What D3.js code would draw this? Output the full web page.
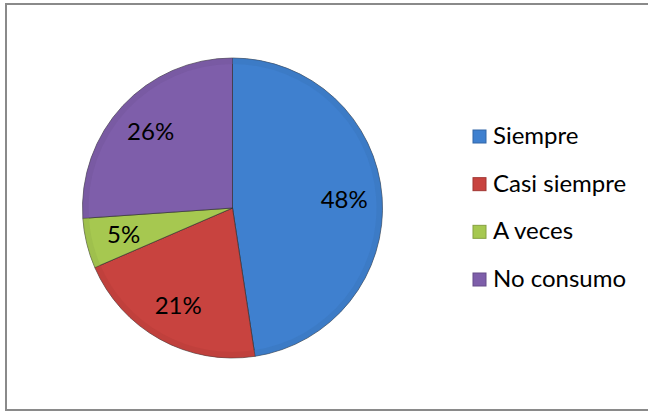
<!DOCTYPE html>
<html><head><meta charset="utf-8">
<script src="https://cdn.jsdelivr.net/npm/d3@7"></script>
<style>html,body{margin:0;padding:0;background:#fff;overflow:hidden}</style>
</head><body><svg id="c" width="648" height="412"></svg>
<script>
const categories = ["Siempre", "Casi siempre", "A veces", "No consumo"];
const values = [47.6, 20.9, 5.4, 26.1];
const labels = ["48%", "21%", "5%", "26%"];
const colors = ["#3F80CF", "#C8433F", "#A6C850", "#7E5EAA"];

const svg = d3.select("#c");
const FONT = "Lato, 'Open Sans', sans-serif";

svg.append("rect").attr("x", 6).attr("y", 4).attr("width", 660).attr("height", 406)
  .attr("fill", "#fff").attr("stroke", "#8a8a8a").attr("stroke-width", 2);

const defs = svg.append("defs");
colors.forEach((c, i) => {
  const g = defs.append("radialGradient").attr("id", "g" + i)
    .attr("cx", "50%").attr("cy", "50%").attr("r", "50%");
  const base = d3.color(c);
  g.append("stop").attr("offset", "0%").attr("stop-color", base.brighter(0.15));
  g.append("stop").attr("offset", "90%").attr("stop-color", base);
  g.append("stop").attr("offset", "100%").attr("stop-color", base.darker(0.35));
});

const cx = 232.5, cy = 208, R = 150;
const pie = d3.pie().sort(null).value(d => d);
const arcs = pie(values);
const arc = d3.arc().innerRadius(0).outerRadius(R);
const labelArc = d3.arc().innerRadius(112).outerRadius(112);

const g = svg.append("g").attr("transform", `translate(${cx},${cy})`);
g.selectAll("path.s").data(arcs).join("path").attr("class", "s")
  .attr("d", arc)
  .attr("fill", (d, i) => colors[i])
  .attr("stroke", "#2a2a2a").attr("stroke-width", 0.6);

// soft highlight band near the rim
const rimArc = d3.arc().innerRadius(R - 6).outerRadius(R);
g.selectAll("path.rim").data(arcs).join("path").attr("class", "rim")
  .attr("d", rimArc)
  .attr("fill", (d, i) => d3.color(colors[i]).darker(0.25))
  .attr("opacity", 0.5);

g.selectAll("text").data(arcs).join("text")
  .attr("transform", d => `translate(${labelArc.centroid(d)})`)
  .attr("text-anchor", "middle").attr("dy", "0.35em")
  .attr("font-family", FONT).attr("font-size", 24).attr("fill", "#000")
  .text((d, i) => labels[i]);

const leg = svg.append("g");
const ys = d3.scalePoint().domain(categories).range([144, 287]);
categories.forEach((c, i) => {
  leg.append("rect").attr("x", 473).attr("y", ys(c) - 14).attr("width", 13).attr("height", 13)
    .attr("fill", colors[i]).attr("stroke", d3.color(colors[i]).darker(0.6)).attr("stroke-width", 1);
  leg.append("text").attr("x", 493).attr("y", ys(c))
    .attr("font-family", FONT).attr("font-size", 24).attr("fill", "#000").text(c);
});
</script></body></html>
